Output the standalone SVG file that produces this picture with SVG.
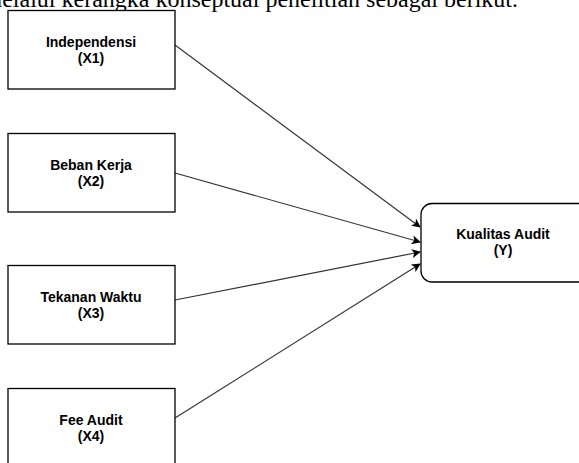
<svg xmlns="http://www.w3.org/2000/svg" width="579" height="463" viewBox="0 0 579 463">
<defs>
<style>
.box{fill:#fff;stroke:#000;stroke-width:1.3}
.lbl{font-family:"Liberation Sans",Arial,sans-serif;font-size:14px;font-weight:bold;fill:#000;text-anchor:middle}
.edge{stroke:#333;stroke-width:1.2;fill:none;marker-end:url(#ah)}
</style>
<marker id="ah" viewBox="0 0 10 10" refX="9" refY="5" markerWidth="9" markerHeight="9" markerUnits="userSpaceOnUse" orient="auto">
<path d="M0,0 L10,5 L0,10 L2.5,5 Z" fill="#000"/>
</marker>
</defs>
<rect width="579" height="463" fill="#fff"/>
<text x="518" y="7" font-family="Liberation Serif,'Times New Roman',serif" font-size="24" text-anchor="end" fill="#000">melalui kerangka konseptual penelitian sebagai berikut.</text>
<g id="connectors">
<line class="edge" x1="175" y1="45" x2="420" y2="227"/>
<line class="edge" x1="175" y1="173" x2="420" y2="242"/>
<line class="edge" x1="175" y1="300" x2="420" y2="252"/>
<line class="edge" x1="175" y1="418" x2="420" y2="264"/>
</g>
<g id="x1">
<rect class="box" x="8" y="10.5" width="167" height="78.5"/>
<text class="lbl" x="91" y="47">Independensi</text>
<text class="lbl" x="91" y="63">(X1)</text>
</g>
<g id="x2">
<rect class="box" x="8" y="133.5" width="167" height="78.5"/>
<text class="lbl" x="91" y="170">Beban Kerja</text>
<text class="lbl" x="91" y="186">(X2)</text>
</g>
<g id="x3">
<rect class="box" x="8" y="265.5" width="167" height="78.5"/>
<text class="lbl" x="91" y="302">Tekanan Waktu</text>
<text class="lbl" x="91" y="318">(X3)</text>
</g>
<g id="x4">
<rect class="box" x="8" y="388.5" width="167" height="78.5"/>
<text class="lbl" x="91" y="425">Fee Audit</text>
<text class="lbl" x="91" y="441">(X4)</text>
</g>
<g id="y">
<rect class="box" x="421" y="203.5" width="172" height="78.5" rx="11"/>
<text class="lbl" x="503" y="239">Kualitas Audit</text>
<text class="lbl" x="503" y="255">(Y)</text>
</g>
</svg>
